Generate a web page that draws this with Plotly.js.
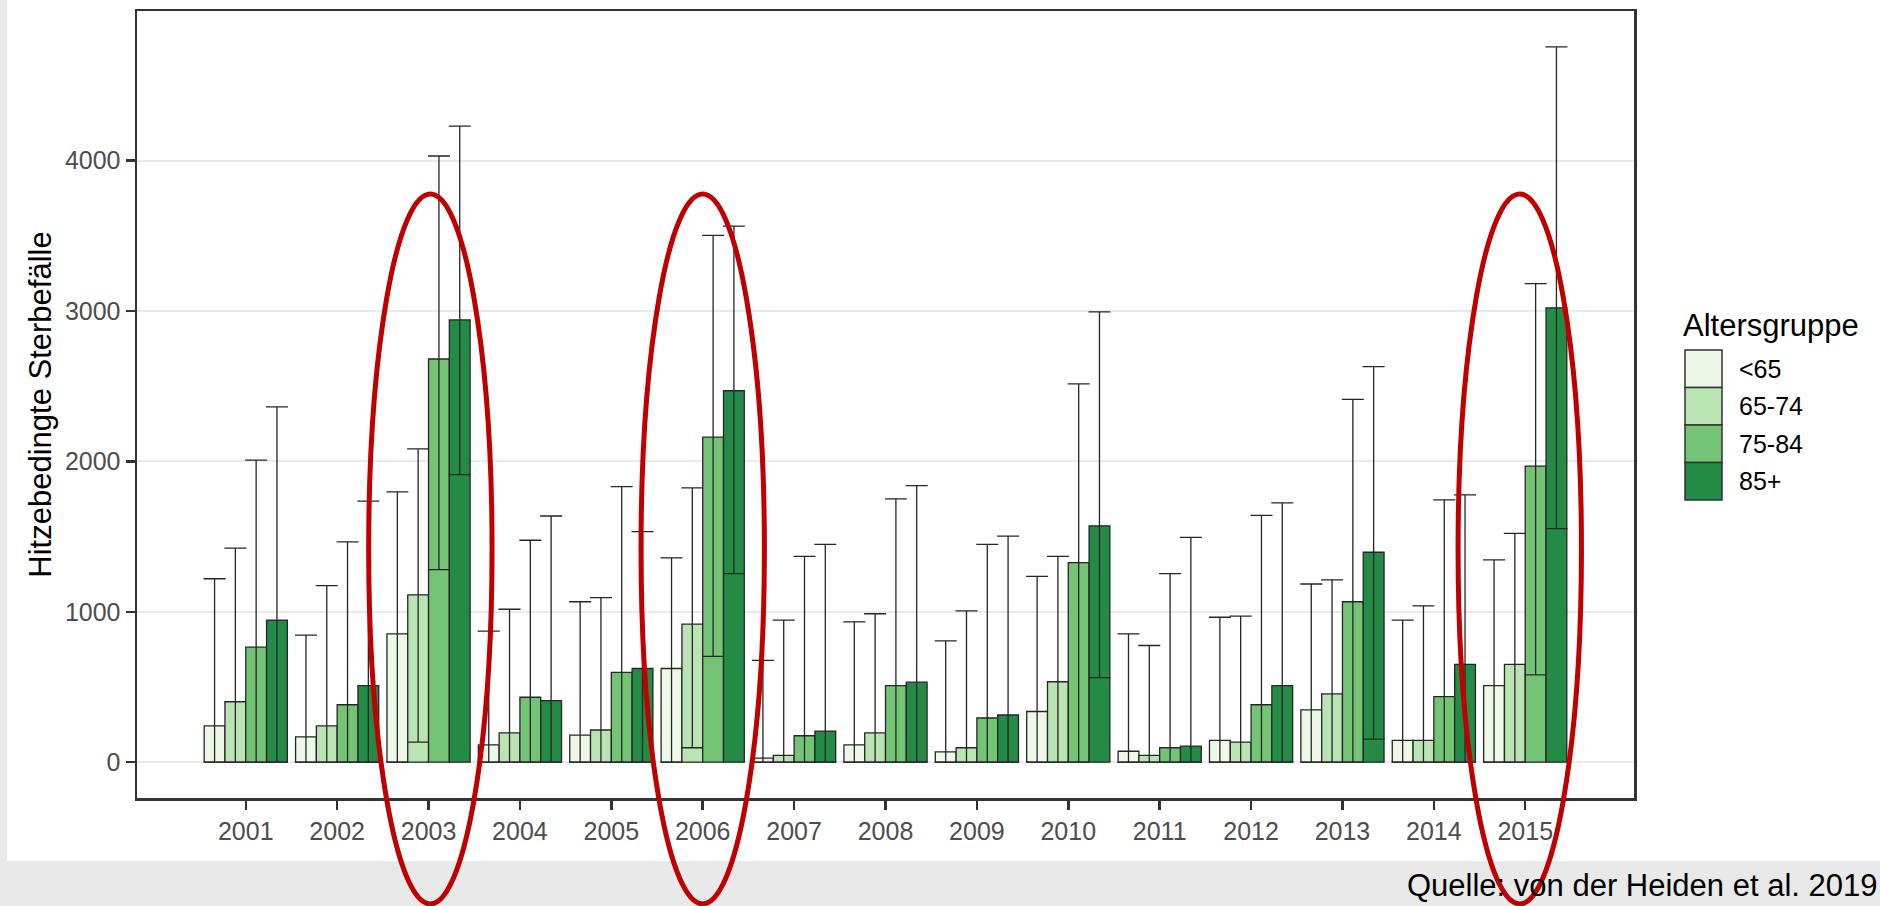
<!DOCTYPE html>
<html>
<head>
<meta charset="utf-8">
<script src="https://cdn.plot.ly/plotly-3.0.1.min.js"></script>
<style>
  html, body { margin: 0; padding: 0; background: #ffffff; }
  #chart { width: 1880px; height: 906px; }
</style>
</head>
<body>
<div id="chart"></div>
<script>
// ---------------- data ----------------
const years = ['2001','2002','2003','2004','2005','2006','2007','2008','2009','2010','2011','2012','2013','2014','2015'];
const groups = ['<65', '65-74', '75-84', '85+'];
const groupColors = ['#edf8e9', '#bae4b3', '#74c476', '#238b45'];

const valLt65   = [241, 168, 853, 115, 180, 623, 27, 115, 69, 337, 73, 145, 348, 145, 509];
const upLt65    = [1220, 845, 1797, 872, 1067, 1358, 677, 933, 807, 1235, 853, 964, 1185, 945, 1346];
const loLt65    = [0, 0, 0, 0, 0, 0, 0, 0, 0, 0, 0, 0, 0, 0, 0];

const val65_74  = [402, 241, 1113, 195, 214, 918, 46, 195, 96, 535, 46, 134, 455, 145, 650];
const up65_74   = [1423, 1174, 2084, 1017, 1094, 1824, 945, 987, 1006, 1369, 776, 971, 1212, 1040, 1522];
const lo65_74   = [0, 0, 134, 0, 0, 96, 0, 0, 0, 0, 0, 0, 0, 0, 0];

const val75_84  = [765, 382, 2681, 432, 597, 2161, 176, 509, 294, 1327, 96, 382, 1067, 436, 1969];
const up75_84   = [2008, 1465, 4031, 1476, 1832, 3503, 1369, 1751, 1449, 2516, 1254, 1641, 2413, 1744, 3182];
const lo75_84   = [0, 0, 1281, 0, 0, 704, 0, 0, 0, 0, 0, 0, 0, 0, 581];

const val85     = [945, 509, 2941, 409, 623, 2470, 207, 532, 314, 1572, 107, 509, 1396, 650, 3021];
const up85      = [2363, 1736, 4229, 1637, 1533, 3564, 1449, 1839, 1503, 2994, 1495, 1725, 2631, 1778, 4757];
const lo85      = [0, 0, 1912, 0, 0, 1254, 0, 0, 0, 562, 0, 0, 153, 0, 1553];

const yTicks = [0, 1000, 2000, 3000, 4000];
const highlightYears = ['2003', '2006', '2015'];
const highlightShift = [0.02, 0.0, -0.06];

const yTitle = 'Hitzebedingte Sterbefälle';
const legendTitle = 'Altersgruppe';
const caption = 'Quelle: von der Heiden et al. 2019';

// ---------------- layout geometry ----------------
const W = 1880, H = 906;
const L = 137, R = 1634, T = 11, B = 798;
const px2x = p => (p - L) / (R - L);
const py2y = p => (B - p) / (B - T);
const xRange = [-1.19, 14 + 1.19];
const idx2x = i => (i - xRange[0]) / (xRange[1] - xRange[0]);

const FONT = 'Liberation Sans, Arial, Helvetica, sans-serif';

const series = [
  {v: valLt65, up: upLt65, lo: loLt65},
  {v: val65_74, up: up65_74, lo: lo65_74},
  {v: val75_84, up: up75_84, lo: lo75_84},
  {v: val85, up: up85, lo: lo85}
];

const traces = series.map((s, k) => ({
  type: 'bar',
  name: groups[k],
  x: years,
  y: s.v,
  marker: {color: groupColors[k], line: {color: '#262626', width: 1.3}},
  error_y: {
    type: 'data',
    symmetric: false,
    array: s.up.map((u, i) => u - s.v[i]),
    arrayminus: s.lo.map((l, i) => s.v[i] - l),
    color: '#262626',
    thickness: 1.3,
    width: 11
  },
  hoverinfo: 'x+y+name'
}));

// ---------------- shapes & annotations ----------------
const shapes = [];
const annotations = [];

// grey page edges
shapes.push({type: 'rect', xref: 'paper', yref: 'paper', layer: 'below',
  x0: px2x(0), x1: px2x(7), y0: py2y(0), y1: py2y(H),
  fillcolor: '#e9e9e9', line: {width: 0}});
shapes.push({type: 'rect', xref: 'paper', yref: 'paper', layer: 'below',
  x0: px2x(0), x1: px2x(W), y0: py2y(861), y1: py2y(H),
  fillcolor: '#e9e9e9', line: {width: 0}});

// custom legend
const keyX0 = 1685, keyX1 = 1722, keyY0 = 350, keyH = 37.5;
groups.forEach((g, k) => {
  const y0 = keyY0 + k * keyH, y1 = y0 + keyH;
  shapes.push({type: 'rect', xref: 'paper', yref: 'paper',
    x0: px2x(keyX0), x1: px2x(keyX1), y0: py2y(y1), y1: py2y(y0),
    fillcolor: groupColors[k], line: {color: '#333333', width: 1.5}});
  annotations.push({xref: 'paper', yref: 'paper', x: px2x(1737), y: py2y((y0 + y1) / 2),
    xanchor: 'left', yanchor: 'middle', showarrow: false, text: g,
    font: {family: FONT, size: 25, color: '#000000'}});
});
annotations.push({xref: 'paper', yref: 'paper', x: px2x(1681), y: py2y(326),
  xanchor: 'left', yanchor: 'middle', showarrow: false, text: legendTitle,
  font: {family: FONT, size: 31, color: '#000000'}});

// caption (kept fully inside the picture)
annotations.push({xref: 'paper', yref: 'paper', x: px2x(1879), y: py2y(905),
  xanchor: 'right', yanchor: 'bottom', showarrow: false, text: caption,
  font: {family: FONT, size: 31, color: '#000000'}});

// red highlight ellipses
highlightYears.forEach((yr, j) => {
  const i = years.indexOf(yr) + highlightShift[j];
  shapes.push({type: 'circle', xref: 'paper', yref: 'paper', layer: 'above',
    x0: idx2x(i - 0.675), x1: idx2x(i + 0.675),
    y0: py2y(904), y1: py2y(194),
    line: {color: '#c00000', width: 5}, fillcolor: 'rgba(0,0,0,0)'});
});

const layout = {
  width: W, height: H,
  margin: {l: L, r: W - R, t: T, b: H - B, pad: 0},
  paper_bgcolor: '#ffffff',
  plot_bgcolor: '#ffffff',
  barmode: 'group',
  bargap: 0.09,
  bargroupgap: 0,
  showlegend: false,
  font: {family: FONT},
  xaxis: {
    type: 'category',
    categoryorder: 'array',
    categoryarray: years,
    range: xRange,
    showgrid: false,
    zeroline: false,
    showline: true, mirror: true, linecolor: '#333333', linewidth: 2.5,
    ticks: 'outside', ticklen: 9, tickwidth: 2.5, tickcolor: '#333333',
    tickfont: {family: FONT, size: 25, color: '#4d4d4d'}
  },
  yaxis: {
    range: [-238, 4995],
    tickvals: yTicks,
    ticktext: yTicks.map(String),
    showgrid: true, gridcolor: '#ebebeb', gridwidth: 2,
    zeroline: false,
    showline: true, mirror: true, linecolor: '#333333', linewidth: 2.5,
    ticks: 'outside', ticklen: 9, tickwidth: 2.5, tickcolor: '#333333',
    tickfont: {family: FONT, size: 25, color: '#4d4d4d'},
    title: {text: yTitle, font: {family: FONT, size: 31, color: '#000000'}, standoff: 4}
  },
  shapes: shapes,
  annotations: annotations
};

Plotly.newPlot('chart', traces, layout, {displayModeBar: false, staticPlot: true});
</script>
</body>
</html>
